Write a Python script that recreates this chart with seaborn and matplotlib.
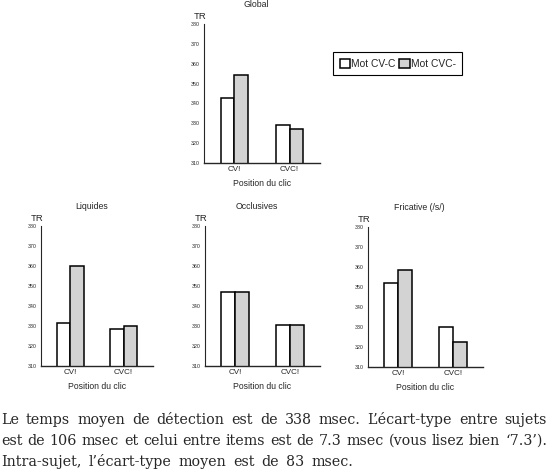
import matplotlib
matplotlib.use("Agg")
import matplotlib.pyplot as plt
import seaborn as sns
import pandas as pd

W, H = 554, 476

positions = ["CV!", "CVC!"]
mots = ["Mot CV-C", "Mot CVC-"]
titles = ["Global", "Liquides", "Occlusives", "Fricative (/s/)"]

# TR moyens (msec)
global_cv_c = [342.7, 329.1]
global_cvc_ = [354.3, 327.3]
liquides_cv_c = [331.6, 328.6]
liquides_cvc_ = [360.0, 330.0]
occlusives_cv_c = [346.9, 330.6]
occlusives_cvc_ = [346.9, 330.6]
fricative_cv_c = [352.0, 330.0]
fricative_cvc_ = [358.5, 322.7]

yticks = [310, 320, 330, 340, 350, 360, 370, 380]

text_lines = [
    "Le temps moyen de détection est de 338 msec.  L\u2019écart-type entre sujets",
    "est de 106 msec et celui entre items est de 7.3 msec (vous lisez bien \u20187.3\u2019).",
    "Intra-sujet, l\u2019écart-type moyen est de 83 msec.",
]

sns.set_style("white")
plt.rcParams["font.family"] = ["Liberation Sans", "DejaVu Sans"]


def box(left, top, right, bottom):
    # pixels -> fraction de figure
    return [left / W, 1 - bottom / H, (right - left) / W, (bottom - top) / H]


fig = plt.figure(figsize=(W / 100, H / 100), dpi=100)

panels = [
    (box(204, 24, 320, 163), global_cv_c, global_cvc_),
    (box(41, 226, 153, 366), liquides_cv_c, liquides_cvc_),
    (box(205, 226, 320, 366), occlusives_cv_c, occlusives_cvc_),
    (box(368, 227, 483, 367), fricative_cv_c, fricative_cvc_),
]

handles = labels = None
for i, (rect, v1, v2) in enumerate(panels):
    ax = fig.add_axes(rect)
    df = pd.DataFrame({
        "Position": positions * 2,
        "Mot": [mots[0]] * 2 + [mots[1]] * 2,
        "TR": v1 + v2,
    })
    sns.barplot(data=df, x="Position", y="TR", hue="Mot", ax=ax,
                palette={mots[0]: "white", mots[1]: "#d3d3d3"},
                edgecolor="black", linewidth=1.1, width=0.5, gap=0,
                saturation=1, errorbar=None, legend=(i == 0))
    if i == 0:
        handles, labels = ax.get_legend_handles_labels()
        ax.get_legend().remove()

    ax.set_ylim(310, 380)
    ax.set_xlim(-0.55, 1.55)
    ax.set_yticks(yticks)
    ax.set_yticks([y + 5 for y in yticks[:-1]], minor=True)
    ax.set_yticklabels([str(y) for y in yticks], fontsize=3.8)
    ax.tick_params(axis="y", which="major", direction="in", length=3, width=0.8, pad=3)
    ax.tick_params(axis="y", which="minor", direction="in", length=1.5, width=0.8)
    ax.tick_params(axis="x", length=0, pad=2.5, labelsize=5.8)
    for s in ["top", "right"]:
        ax.spines[s].set_visible(False)
    ax.spines["left"].set_linewidth(0.8)
    ax.spines["bottom"].set_linewidth(1.0)
    ax.set_xlabel("Position du clic", fontsize=6.2, labelpad=4)
    ax.set_ylabel("")
    ax.set_title(titles[i], fontsize=6.3, x=0.45, pad=12)
    ax.text(-0.09, 1.025, "TR", transform=ax.transAxes, fontsize=6.8,
            ha="left", va="bottom")

leg = fig.legend(handles, labels, loc="upper left", ncol=2,
                 bbox_to_anchor=(333 / W, 1 - 52 / H), fontsize=7.4,
                 frameon=True, fancybox=False, framealpha=1,
                 edgecolor="black", handlelength=1.0, handleheight=1.0,
                 handletextpad=0.1, columnspacing=0.4, borderpad=0.65,
                 borderaxespad=0)
leg.get_frame().set_linewidth(0.8)

# texte justifié sous les graphiques
renderer = fig.canvas.get_renderer()
baselines = [424, 445, 466]
for k, line in enumerate(text_lines):
    words = line.split()
    arts = [fig.text(0, 1 - baselines[k] / H, w, fontsize=10.3,
                     family="DejaVu Serif", va="baseline", ha="left")
            for w in words]
    widths = [a.get_window_extent(renderer).width for a in arts]
    if k < len(text_lines) - 1:
        gap = (547 - 1 - sum(widths)) / (len(words) - 1)
    else:
        gap = 7
    x = 1
    for a, w in zip(arts, widths):
        a.set_x(x / W)
        x += w + gap

fig.savefig("out.png", dpi=100, facecolor="white")
